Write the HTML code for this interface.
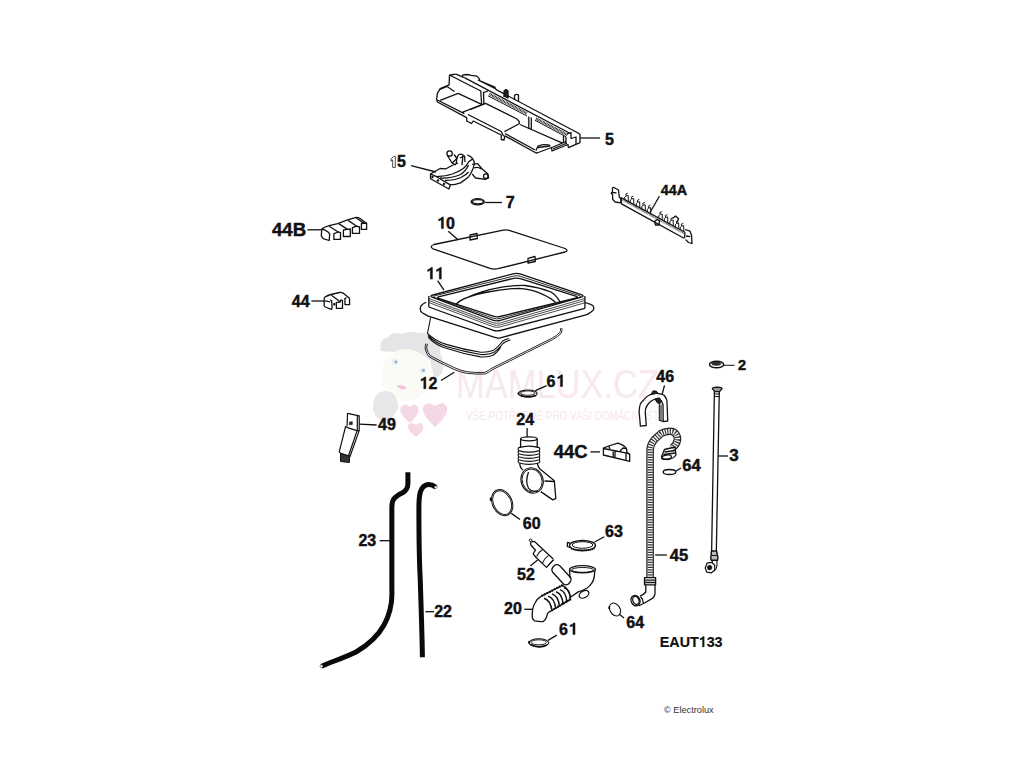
<!DOCTYPE html>
<html><head><meta charset="utf-8">
<style>
html,body{margin:0;padding:0;background:#fff;width:1024px;height:768px;overflow:hidden}
svg{display:block}
.l{font-family:"Liberation Sans",sans-serif;font-weight:bold;fill:#111;stroke:#111;stroke-width:0.45}
.p{stroke:#111;stroke-width:1.3;fill:none;stroke-linejoin:round}.p2{stroke:#111;stroke-width:0.9;fill:none}
.hose{stroke:#0a0a0a;stroke-width:5;fill:none;stroke-linecap:butt}.hose45o{stroke:#222;stroke-width:7;fill:none}.hose45i{stroke:#ccc;stroke-width:4.5;fill:none;stroke-dasharray:1 1.1}
.k{stroke:#111;stroke-width:1.3;fill:none}
</style></head><body>
<svg width="1024" height="768" viewBox="0 0 1024 768">

<!-- WATERMARK -->
<g id="wm">
<path d="M381,351 Q378,340 388,337 Q393,331 402,334 Q410,330 418,333 Q428,331 434,338 Q441,343 440,352 Q445,362 442,372 Q440,378 434,377 L430,360 Q415,348 395,352 Z" fill="#e6e4e6"/>
<ellipse cx="406" cy="375" rx="25" ry="26" fill="#fbfbf5"/>
<circle cx="395" cy="362" r="3.2" fill="#e6f0f4"/><circle cx="396" cy="362" r="1.4" fill="#9ab"/>
<circle cx="422.5" cy="370.5" r="3.2" fill="#e6f0f4"/><circle cx="423.5" cy="370.5" r="1.4" fill="#9ab"/>
<path d="M396.5,386 Q401,383.5 407,388 Q402,391.5 396.5,386 Z" fill="#f0c4dc"/>
<path d="M385,391 Q373,392 373,408 Q374,420 386,421 Q394,418 398,408 Q398,396 391,392 Z" fill="#e8e6e8"/>

<path d="M410,423 Q398,413 401,407 Q405,402 410,407 Q414,402 418,407 Q421,413 410,423 Z" fill="#f5d8e5"/>
<path d="M435,427 Q421,414 423,407 Q427,400 435,406 Q443,400 447,407 Q449,415 435,427 Z" fill="#f5d8e5"/>
<path d="M416,437 Q407,430 408,425 Q411,421 416,425 Q420,421 423,425 Q425,430 416,437 Z" fill="#f5d8e5"/>
<text x="456" y="397.5" font-family="Liberation Sans, sans-serif" font-size="40" fill="#f8e8ef" textLength="203" lengthAdjust="spacingAndGlyphs">MAMLUX.CZ</text>
<text x="466" y="419.5" font-family="Liberation Sans, sans-serif" font-size="12.5" fill="#f7e6ee" textLength="193" lengthAdjust="spacingAndGlyphs">VŠE POTŘEBNÉ PRO VAŠI DOMÁCNOST</text>
</g>
<g class="l">
<text x="605.0" y="144.88" font-size="16">5</text>
<path d="M392.7,167.4 V160 L391,161.2 V159 L393.7,156.4 H395.3 V167.4 Z" fill="none" stroke="#222" stroke-width="0.8"/>
<text x="397.02" y="166.93" font-size="16">5</text>
<text x="505.75" y="207.7" font-size="16">7</text>
<text x="660.75" y="194.88" font-size="14.3">44A</text>
<text x="272.0" y="236.0" font-size="18.6">44B</text>
<path d="M 441.36,228.60 L 443.44,228.60 L 443.44,216.95 L 442.00,216.95 Q 441.36,218.36 438.64,219.16 L 438.64,220.92 Q 440.08,220.52 441.36,219.72 Z"/>
<text x="446.10" y="228.6" font-size="16">0</text>
<path d="M 430.36,279.10 L 432.44,279.10 L 432.44,267.45 L 431.00,267.45 Q 430.36,268.86 427.64,269.66 L 427.64,271.42 Q 429.08,271.02 430.36,270.22 Z"/>
<path d="M 439.26,279.10 L 441.34,279.10 L 441.34,267.45 L 439.90,267.45 Q 439.26,268.86 436.54,269.66 L 436.54,271.42 Q 437.98,271.02 439.26,270.22 Z"/>
<text x="291.85" y="306.65" font-size="16">44</text>
<path d="M 423.78,388.67 L 425.86,388.67 L 425.86,377.02 L 424.42,377.02 Q 423.78,378.43 421.06,379.23 L 421.06,380.99 Q 422.50,380.59 423.78,379.79 Z"/>
<text x="428.52" y="388.67" font-size="16">2</text>
<text x="546.42" y="386.5" font-size="16">6</text>
<path d="M 560.48,386.50 L 562.56,386.50 L 562.56,374.85 L 561.12,374.85 Q 560.48,376.26 557.76,377.06 L 557.76,378.82 Q 559.20,378.42 560.48,377.62 Z"/>
<text x="737.9" y="369.91999999999996" font-size="14.5">2</text>
<text x="656.25" y="381.85" font-size="16">46</text>
<text x="378.1" y="430.12" font-size="16">49</text>
<text x="516.28" y="425.38" font-size="16">24</text>
<text x="553.75" y="457.65" font-size="18.4">44C</text>
<text x="729.33" y="461.07" font-size="17">3</text>
<text x="682.23" y="471.12" font-size="16.5">64</text>
<text x="522.75" y="529.0" font-size="16">60</text>
<text x="605.03" y="536.5" font-size="16">63</text>
<text x="358.38" y="545.65" font-size="16">23</text>
<text x="669.81" y="560.55" font-size="16.5">45</text>
<text x="517.12" y="580.4" font-size="16">52</text>
<text x="504.05" y="613.8" font-size="16">20</text>
<text x="434.23" y="617.33" font-size="16">22</text>
<text x="626.33" y="627.9" font-size="16">64</text>
<text x="558.88" y="634.55" font-size="16">6</text>
<path d="M 572.94,634.55 L 575.02,634.55 L 575.02,622.90 L 573.58,622.90 Q 572.94,624.31 570.22,625.11 L 570.22,626.87 Q 571.66,626.47 572.94,625.67 Z"/>
<text x="659.77" y="646.97" font-size="14.3" style="stroke-width:0.2">EAUT</text>
<path style="stroke-width:0.2" d="M 702.41,646.97 L 704.27,646.97 L 704.27,636.56 L 702.98,636.56 Q 702.41,637.82 699.98,638.53 L 699.98,640.11 Q 701.27,639.75 702.41,639.03 Z"/>
<text x="706.65" y="646.97" font-size="14.3" style="stroke-width:0.2">33</text>
</g>
<text x="664" y="713" font-family="Liberation Sans, sans-serif" font-size="9.2" fill="#333">© Electrolux</text>

<!-- PART5 -->
<g class="p" id="p5">
<path d="M449.5,75 L449.1,84.8 L440.2,88.7 L437.4,93.3 L436.6,98.8 L437.4,102 L466.7,117.6"/>
<path d="M437.4,100 L464.4,113.7 M440.2,100.4 L458.1,93.3 M458.1,93.3 L481.6,104.3 M462.8,112.1 L484.7,103.5"/>
<path d="M449.5,75 L480.8,91 L481.6,104.3 M483.5,91.8 L483.9,103.5 M449.5,75 L455.8,74.2"/>
<path d="M440,89.5 L447,86.5 L450,88.5 L454.5,91.5"/>
<path d="M455.8,74.2 L464.4,77.7 M462,76.7 L463,74.8 L467,74.5 L471.4,75.4 L476.9,76.2 Q479.5,78 480,80.8 L494.8,87 L495.8,89.4 M478,80 L496,88.8"/>
<path d="M464.4,77.7 L570.3,133.5 M495.8,89.4 L578.1,133 L580,134.4 L580,142.7 L568.4,147.6 L568,144.5 L552,151 L551.5,147.5 L537,153 L535.2,152.5"/>
<path d="M489.5,94 L527,113.5 M536,118.5 L567.5,135" stroke-width="2.6" stroke-dasharray="0.9 0.6" stroke="#222"/><path d="M488,95.8 L527,116 M535,120.3 L566,136.8" stroke-width="1"/>
<path d="M484,92.5 L488,90.8 M567,134 L571,132.5 L571,138.5 L576,137 L576,144"/>
<path d="M528.8,116.4 L528.8,129 M531.3,117.4 L531.3,130 M563.5,135.9 L563.5,143.2 M566,137 L566,144.5"/>
<path d="M470,109.7 L485.6,103.4 L516.9,119 Q520,121.5 519.2,123.75 L504.4,131.6"/>
<path d="M466.7,117.6 L466.7,121 L471.5,123.5 L473.2,121 L501.25,135 L501.25,139.5 L504,140 L504.9,135.9 L535.2,152.5"/>
<path d="M468,114.5 L501.25,131.5 L503.6,136.25 M504.9,133.5 L535.2,150 M520,124.5 L562.5,143.2"/>
<path d="M536,150.5 L538,146 Q545,143.5 550.5,145.5 M538,147.5 L550,146 M552,147.5 L566,141.5 M553,149 L567,143"/>
<path d="M504,97 L504,91 L506,89.5 L508,91 L508,98.5" fill="#222"/><path d="M514.5,100 L514.5,95.5 Q516.5,93.5 518.5,95 L518.5,102"/>
</g>
<!-- PART15 -->
<g class="p" id="p15">
<circle cx="449.6" cy="153.5" r="2.7"/>
<path d="M447.5,155.5 L452,163 L457,158.5 L454,154.5 M452,163 L456,165"/>
<path d="M430.5,174 L430.5,178.8 L448.9,189 L450.3,184.9 L436.6,176.7 Z M430.5,174 L440,168.5 L446,168.8 L452,165.5 L458,163"/>
<path d="M436.6,176.7 Q446,176 452.3,174 Q459,171.5 463.3,168.5 Q467,165.5 468.7,161.7 L472.8,158.9 M467.4,154.8 Q471.5,156.5 472.8,158.9 Q474.8,162 474.2,164 Q473.5,168 472.2,170.6 Q470.5,174.5 468.7,176.7 Q465,180 460.5,182.9 Q455,185 449.6,184.9"/>
<path d="M440,178 Q451,178.5 459.5,175 Q466,171.5 468.5,165 M445,180.5 Q454,180.5 461,177.5 Q466,175 468.5,172"/>
<path d="M456.5,164 Q456,157 459,154.5 Q461.5,153.5 463,155 L462,165 M460,158 L464.5,156 L465,162"/>
<path d="M472.2,164.4 L477.6,163.7 L481.7,168.5 L487.9,174 L488.6,178 L485.2,179.4 L475.6,178 L472.2,174 M474,168 Q478,166.5 481,169"/>
<circle cx="485.8" cy="176.2" r="2.3"/>
<path d="M431.5,176.5 L433.5,177.5 M437,180 L439,181 M443,183.5 L445,184.5" stroke-width="2"/>
</g>
<!-- PART7 -->
<ellipse class="p" cx="477.7" cy="201.8" rx="6.6" ry="3.1" stroke-width="1"/><ellipse class="p" cx="477.9" cy="201.8" rx="5.4" ry="2.1" stroke-width="0.8"/>
<!-- PART44A -->
<g class="p" id="p44a">
<path d="M621,197.6 L685,232.3 M621.5,203.9 L684,238.2 M621,197.6 L621.5,203.9 M685,232.3 L684.5,238.2"/>
<path d="M621.5,199.4 L684.5,233.8" stroke="#444" stroke-width="1.6" stroke-dasharray="0.7 0.6"/>
<path d="M612.5,188 Q613,187 614,187.5 L618.5,190 L619.3,197 L621,199 L621,202.8 L618.5,202.5 L615.2,202 L612.7,199.5 L612.5,194.5 L611.2,193.2 L612.5,191.8 Z M612.3,192.5 L616.5,192.8"/>
<path d="M685,229.5 L690,231.2 L691.5,235 L692,243.5 L688.5,242.5 L685.5,239.5 M686,236 L690.3,236.7"/>
<path d="M624.8,200.0 Q624.0,196.3 626.3,195.8 Q624.5,193.8 627.8,193.1 M626.3,195.8 L628.2,195.5 L628.3,201.1 M630.3,203.0 Q629.5,199.3 631.8,198.8 Q630.0,196.8 633.3,196.1 M631.8,198.8 L633.7,198.5 L633.8,204.1 M636.3,206.3 Q635.5,202.6 637.8,202.1 Q636.0,200.1 639.3,199.4 M637.8,202.1 L639.7,201.8 L639.8,207.4 M641.8,209.3 Q641.0,205.6 643.3,205.1 Q641.5,203.1 644.8,202.4 M643.3,205.1 L645.2,204.8 L645.3,210.4 M647.3,212.2 Q646.5,208.5 648.8,208.0 Q647.0,206.0 650.3,205.3 M648.8,208.0 L650.7,207.7 L650.8,213.3 M658.8,218.5 Q658.0,214.8 660.3,214.3 Q658.5,212.3 661.8,211.6 M660.3,214.3 L662.2,214.0 L662.3,219.6 M664.3,221.5 Q663.5,217.8 665.8,217.3 Q664.0,215.3 667.3,214.6 M665.8,217.3 L667.7,217.0 L667.8,222.6 M669.8,224.5 Q669.0,220.8 671.3,220.3 Q669.5,218.3 672.8,217.6 M671.3,220.3 L673.2,220.0 L673.3,225.6 M675.3,227.5 Q674.5,223.8 676.8,223.3 Q675.0,221.3 678.3,220.6 M676.8,223.3 L678.7,223.0 L678.8,228.6 M680.3,230.2 Q679.5,226.5 681.8,226.0 Q680.0,224.0 683.3,223.3 M681.8,226.0 L683.7,225.7 L683.8,231.3" stroke-width="1"/>
<path d="M654.5,221.5 L657,219.5 L659.5,221 L659,225 L655.5,225 Z"/>
<path d="M672.5,218.5 L675.5,216 L678.5,218.5 L677,222.5" />
</g>
<!-- PART44B -->
<g class="p" id="p44b">
<path d="M321.8,228.9 Q325,226.8 329.2,225.7 L337.6,223.6 L347.6,219.9 L356.1,217.3 Q358.8,217.2 360.8,218.9 L366.1,223.1"/>
<path d="M321.8,228.9 L321.3,235.7 Q322,238 323.9,238.9 L329.2,240.5 L329.7,234.2 L328.1,232 Q325,230 321.8,228.9"/>
<path d="M329.2,226.2 L338.2,232 M338.7,223.6 L347.6,229.4 M348.2,220.4 L356.6,226.2 M356.1,217.8 L364.5,223.6"/>
<path d="M333.9,233.6 L333.9,239.4 L340.5,239.4 L340.5,232.6 L338.2,232 Z M343.4,229.9 L343.4,236.5 L350.3,236.5 L350.3,229 L347.6,229.4 Z M352.4,227.6 L352.4,233.4 L359.5,233.4 L359.5,227 L356.6,226.2 Z M361.4,223.5 L361.4,229.4 L366.6,229.4 L366.6,223 Z"/>
</g>
<!-- PART44 -->
<g class="p" id="p44">
<path d="M324.3,297.5 Q327,295.5 331,294.5 L339.5,292.5 Q342,292.3 343.6,293.4 L349.5,298.2 L349.6,304.5 L345,304.6 L344.9,298.3 L346.5,298"/>
<path d="M324.3,297.5 L324.1,305.7 Q324.8,307 326.5,307.5 L331.4,309.4 L332.1,308.3 L331.7,300.8 Q330.5,300 330.2,300.3 M325,300.8 L330.2,301.8"/>
<path d="M331.4,295.3 L339.9,301.6 M336.4,308.3 L336.3,302.5 L340,302.2 L341,299.8 L342.5,300.5 L342.5,308.3 Z"/>
<circle cx="334.3" cy="304.2" r="0.6" fill="#111"/>
</g>
<!-- PART10 -->
<g class="p" id="p10">
<path d="M434,244.5 L502,230.3 Q506,229.5 510,230.6 L565,248.5 Q569,250.5 565,252 L498,268.7 Q494,269.6 490,268.3 L433,248.8 Q429,246.5 434,244.5 Z"/>
<path d="M470,235 L477,233.5 L477.3,238.5 L470,240 Z M528,258.3 L535,256.5 L535.3,261.5 L528,263.2 Z"/>
</g>
<!-- PART11 -->
<g class="p" id="p11">
<path d="M432.9,295.0 L513.1,273.8 Q517.0,272.8 520.8,274.1 L581.2,294.7 Q585.0,296.0 581.2,297.1 L500.3,320.4 Q496.5,321.5 492.8,320.1 L432.7,297.4 Q429.0,296.0 432.9,295.0 Z"/>
<path d="M435.2,295.7 L513.6,276.1 Q517.0,275.2 520.3,276.3 L579.0,295.5 Q582.3,296.6 578.9,297.5 L499.9,318.5 Q496.5,319.4 493.2,318.2 L435.1,297.8 Q431.8,296.6 435.2,295.7 Z" stroke-width="0.9"/>
<path d="M439.4,296.7 L513.6,278.4 Q517.0,277.6 520.3,278.7 L575.7,296.2 Q579.0,297.3 575.6,298.1 L499.9,316.5 Q496.5,317.3 493.2,316.2 L439.3,298.6 Q436.0,297.5 439.4,296.7 Z"/>
<path d="M428.8,298.5 L492.8,322.6 Q496.5,324.0 500.3,322.9 L584.9,298.5 M428.8,300.5 L492.8,324.6 Q496.5,326.0 500.3,324.9 L584.9,300.5 M428.8,302.5 L492.8,326.6 Q496.5,328.0 500.3,326.9 L584.9,302.8" stroke-width="0.75"/>
<path d="M440,303.5 L494,323" stroke="#888" stroke-width="1.4" stroke-dasharray="0.6 0.8"/>
<path d="M428.8,296 L428.8,307 M584.9,296 L584.9,308.4"/>
<path d="M428.8,307.0 L492.7,330.1 Q496.5,331.5 500.4,330.5 L584.9,308.4"/>
<path d="M426.0,302.2 L422.6,304.2 Q420.5,305.5 420.4,308.0 L420.3,309.0 Q420.2,311.5 422.3,312.8 L425.4,314.6 Q427.5,315.9 429.9,316.7 L495.6,337.6 Q498.0,338.4 500.4,337.8 L586.0,314.8 Q588.4,314.2 590.4,312.6 L592.3,311.1 Q594.3,309.5 593.7,307.2 L593.7,307.2 Q593.1,305.0 590.7,304.3 L585.0,302.5"/>
<path d="M456,304.5 Q462,297 488,292 Q505,288.5 519.3,288.4 Q533,289.5 542.7,294.3 Q551,298 555.6,302.5 M466,298 Q480,291 500.5,287.3 Q514,285.2 525.2,285.5 Q540,287.5 551,292 Q557,296 560.3,302.5"/>
<path d="M430.6,317.5 Q429,326 427.5,333.4 Q435,341 446.25,344.4 Q463,349.5 480.6,352.2 Q488,352.5 493,350.6 Q498,347.5 502.5,341.25 Q505.5,339 509,338.5 M428,335.5 Q436,343.5 446.25,346.5 Q463,351.5 480.6,354.5 Q488.5,355 493.5,352.6 Q499,349 503,343.5 Q506,341 510.5,340 M428.3,337.3 Q436,345.5 446.25,348.3 Q463,354 480.6,356.9 Q488,357.5 493,355.3 Q497.5,352.5 501,346.5" stroke-width="1.1"/>
</g>
<!-- PART12 -->
<g class="p2" id="p12">
<path d="M425.9,343.6 Q424.8,347 425.2,349 Q426.5,354 429,356.9 Q440,363 454,369.4 Q460,372 466.6,373.3 Q476,374.5 485.3,374 Q489.5,372 493,369.4 L527.5,352.2 L552.5,339.7 Q558.5,336.5 561,333.4 Q562.5,331 561.9,328"/>
<path d="M427.5,343.8 Q426.4,347 426.8,349 Q428,353.2 430.2,355.6 Q441,361.6 454.8,367.8 Q460.6,370.4 467,371.7 Q476,372.9 484.8,372.4 Q488.7,370.5 492.1,368 L526.8,350.8 L551.8,338.3 Q557.5,335.3 559.8,332.5 Q561,330.5 560.4,328.2"/>
</g>
<!-- PART2 -->
<g class="p" id="p2">
<ellipse cx="716.6" cy="364.5" rx="7.1" ry="3.3" fill="#eee" stroke-width="1.4"/>
<ellipse cx="716.3" cy="363.6" rx="4.6" ry="1.6" fill="#333" stroke-width="0.8"/>
</g>
<!-- PART3 -->
<g class="p" id="p3">
<path d="M712.3,388.6 Q712.5,387.2 717.2,387.1 Q722,387.2 722.1,388.6 L719.5,391.7 L714.8,391.7 Z" fill="#999"/>
<path d="M714.4,391.5 L711.6,553 M719.3,391.5 L716.3,553"/>
<path d="M714.6,394 L719.2,394 M714.6,396.5 L719.2,396.5" stroke-width="1.2"/>
<path d="M711.4,551 L711.1,556 L710.6,557.5 L711.3,560.3 L717.5,560.3 L718,557.5 L717.6,556 L716.6,551 Z" fill="#bbb" stroke-width="1.4"/>
<path d="M711.2,555.5 L717.5,555.5" stroke-width="1"/>
<path d="M712.3,560.3 L712.3,563.5 M716.9,560.3 L716.9,566 Q716.5,569 714,571" stroke-width="1.1"/>
<path d="M707,563.2 L711.5,562.4 L714.6,565 L714.8,570 L711.5,572.8 L706.8,572.2 L705.2,568 Z" fill="#fff" stroke-width="1.2"/>
<circle cx="709.6" cy="567.6" r="2.3" fill="#111" stroke-width="0.6"/>
</g>
<!-- PART46 -->
<g class="p" id="p46">
<path d="M640.4,426.2 L639.1,411.2 Q639.5,403 643,400.8 Q647,395.5 652,394 Q658,392.5 663.8,395 Q667.5,399 667.1,404 L667.7,421 L663.2,421.6 L663,405 Q662,400 658,398.9 Q652,399 648.2,404 Q645,408 645.3,413 L646.3,425.5 Z" fill="#fff"/>
<path d="M659.3,404.7 L659.3,420.3 L663.2,421.6 M661,404.5 L661,421" stroke-width="1.1"/>
<path d="M650.5,395.2 L653,391 L656,391 L658.3,393.2" fill="#222" stroke-width="1"/>
<path d="M655.5,398.6 L659.5,397.8 L661.5,401 L659.5,404.5 L656,401.5 Z" fill="#222" stroke-width="0.8"/>
</g>
<!-- PART45 -->
<g id="p45">
<path d="M650.1,578 L650.1,449.7 Q650.5,444 654.5,439.5 L661,433.5 Q666.5,430.5 672.4,431.5 Q677.5,433.5 677.5,439.5 Q677,444 672.5,448" stroke="#222" stroke-width="7.6" fill="none"/>
<path d="M650.1,578 L650.1,449.7 Q650.5,444 654.5,439.5 L661,433.5 Q666.5,430.5 672.4,431.5 Q677.5,433.5 677.5,439.5 Q677,444 672.5,448" stroke="#fff" stroke-width="5.2" fill="none"/>
<path d="M650.1,578 L650.1,449.7 Q650.5,444 654.5,439.5 L661,433.5 Q666.5,430.5 672.4,431.5 Q677.5,433.5 677.5,439.5 Q677,444 672.5,448" stroke="#333" stroke-width="5.4" fill="none" stroke-dasharray="1.2 1.3"/>
<path class="p" d="M664.5,449.5 L675,447 L676,455 Q673,459.5 667,459.5 Q662,459 661.5,456.5 Z" fill="#fff"/>
<path class="p" d="M664.5,452 L675.5,450.5 M663.5,454.5 L675.8,453" stroke-width="1.1"/>
<ellipse class="p" cx="666.5" cy="457.2" rx="5" ry="2" transform="rotate(-10 666.5 457.2)" fill="#fff"/>
<path class="p" d="M645.8,584.8 L645.8,592 Q644,594.5 640,596 M655,584.8 L655,593.9 Q654.5,597 652.4,598.4 L644.5,603 Q641.5,604.5 638.5,605.8" fill="#fff"/>
<path class="p" d="M644.5,577.6 L655.6,577.6 L655.6,584.8 L644.5,584.8 Z" fill="#fff"/>
<path class="p" d="M644.5,580.2 L655.6,580.2 M644.5,582.5 L655.6,582.5" stroke-width="1"/>
<path class="p" d="M640.5,596.5 Q643,599 643.5,603.5" stroke-width="1"/>
<ellipse class="p" cx="635.5" cy="600.6" rx="4.4" ry="5.3" transform="rotate(-25 635.5 600.6)" fill="#fff"/>
<ellipse class="p" cx="635.9" cy="600.4" rx="3" ry="4" transform="rotate(-25 635.9 600.4)" stroke-width="1"/>
</g>
<!-- PART64 upper -->
<ellipse class="p" cx="669.5" cy="472" rx="6.3" ry="2.5"/>
<!-- PART44C -->
<g class="p" id="p44c">
<path d="M603.4,448.2 L603.4,455 L629.7,461.4 L629.7,454.2 L626.9,452.3 L626.5,448.7 Q624,445 617.8,443.2 L608.7,446 Z"/>
<path d="M603.4,448.5 L626.9,453.2 L629.7,454.2 M613.2,450.5 L613.2,457.3 M615,450.9 L615,457.7 M626,453 L626,460.5 M608.7,446 L610,449 M620,451 L623,448 L626.5,448.7"/>
</g>
<!-- PART24 -->
<g class="p" id="p24">
<path d="M520.6,438.8 L520.6,447.6 M537.2,438.8 L537.2,447.6"/>
<ellipse cx="528.9" cy="438.8" rx="8.3" ry="2"/>
<path d="M518.6,447.6 Q528.9,444.5 539.3,447.6 M518.6,450.6 Q528.9,453.8 539.3,450.6 M518.6,453.7 Q528.9,456.9 539.3,453.7 M518.6,456.7 Q528.9,459.9 539.3,456.7 M518.6,459.7 Q528.9,462.9 539.3,459.7 M518.6,462.8 Q528.9,465.9 539.3,462.8 M518.6,447.6 Q517.6,449.1 518.6,450.6 Q517.6,452.1 518.6,453.7 Q517.6,455.2 518.6,456.7 Q517.6,458.2 518.6,459.7 Q517.6,461.2 518.6,462.8 M539.3,447.6 Q540.3,449.1 539.3,450.6 Q540.3,452.1 539.3,453.7 Q540.3,455.2 539.3,456.7 Q540.3,458.2 539.3,459.7 Q540.3,461.2 539.3,462.8" stroke-width="1.15"/>
<path d="M519.7,463.2 Q520,468 523.1,470 M537.2,463.2 Q538,467 540,469 L554.3,480.8 L555.8,498.4 L552.9,499.9 L540.7,491.6"/>
<ellipse cx="532.1" cy="480.5" rx="11" ry="12.9" transform="rotate(-20 532.1 480.5)" stroke-width="1"/>
<ellipse cx="532.1" cy="480.5" rx="9.8" ry="11.7" transform="rotate(-20 532.1 480.5)" stroke-width="0.9"/>
<path d="M528.5,472 Q525,482 528.5,488 Q531,492 538,491 M544.5,481 L554.3,481.5"/>
</g>
<!-- PART60 -->
<g class="p" id="p60">
<ellipse cx="502.2" cy="502.6" rx="9.9" ry="13.6" transform="rotate(-25 502.2 502.6)" stroke-width="1"/>
<ellipse cx="502.2" cy="502.6" rx="8.7" ry="12.4" transform="rotate(-25 502.2 502.6)" stroke-width="0.9"/>
<path d="M490.8,497.5 L490.8,501" stroke-width="2"/>
</g>
<!-- PART63 -->
<g class="p" id="p63">
<ellipse cx="582.5" cy="545.5" rx="13" ry="5"/>
<ellipse cx="582.5" cy="545" rx="10.3" ry="3.3" stroke-width="1"/>
<path d="M569.8,543 L567.5,542.5 L567.3,546.5 L570,547.5" />
<path d="M571,548.5 Q582.5,552.5 594.5,548.5" stroke-width="1.8" stroke-dasharray="1.2 0.7"/>
</g>
<!-- PART52 -->
<g class="p" id="p52">
<circle cx="530.6" cy="540.3" r="1.3" stroke-width="1"/>
<path d="M530.3,544.2 L531.3,541.8 M531.9,541.4 L534.5,541.6 L553.25,559.1 M530.3,544.2 L535.5,550.2 Q534,552 533.2,553.9 L536.1,557.5 L546.5,567.4 L553.8,559.6"/>
<path d="M536.6,556.5 Q538.5,552 542.3,549.7 M542.3,563.25 Q544.5,558 548.6,555.4" stroke-width="1.1"/>
<path d="M547.8,565.5 L553,559.8" stroke-width="1"/>
</g>
<!-- PART20 -->
<g class="p" id="p20">
<path d="M553,567 Q551,569.5 552.5,572 L563.5,584 Q566,585.8 568.5,584 L570.5,581.5 Q572,579.5 570.5,577.5 L560,566 Q557.5,564 555,565 Z"/>
<path d="M569.5,570 L570,578 M594.9,570.5 L594.2,577 Q593.5,580.5 591.8,583.2 Q589.5,586.5 586.8,588.2 Q582.5,590.5 578.2,591.9 L570,597.5"/>
<ellipse cx="582.5" cy="569.3" rx="13" ry="3.6" fill="#fff"/>
<ellipse cx="582.5" cy="569.9" rx="11" ry="2.4" stroke-width="1"/>
<ellipse cx="584" cy="594.3" rx="5.2" ry="3.3" transform="rotate(-28 584 594.3)" fill="#fff"/>
<path d="M540.9,596.4 L562.3,585.3 Q566,587 567.8,590.2 Q569.8,593.5 570.2,596.4 L570.2,599.4 L551.25,611" fill="#fff"/>
<path d="M544.0,598.2 Q550.5,600.2 552.0,610.6 M548.0,596.1 Q554.5,598.1 555.7,608.6 M552.0,593.9 Q558.5,595.9 559.4,606.5 M556.0,591.8 Q562.5,593.8 563.1,604.5 M560.0,589.6 Q566.5,591.6 566.8,602.4 M564.0,587.5 Q570.5,589.5 570.5,600.4" stroke-width="1.5"/>
<path d="M541.5,596 L563,585" stroke-width="2.2" stroke-dasharray="1.6 1.2"/>
<path d="M551.5,610.5 L570,599.5" stroke-width="2.2" stroke-dasharray="1.3 1"/>
<path d="M540.9,596.4 Q537,599 535.3,602.5 Q533,606 532.6,609.8 Q532,614 532.3,617.8 Q533,620 534.7,620.8 Q539,621.8 543.3,621.5 Q545.5,620 546.4,617.2 L547.6,613.5 Q549,611.5 551.25,611"/>
</g>
<!-- PART64 lower -->
<g class="p" id="p64b">
<ellipse cx="615" cy="609.5" rx="5" ry="6.9" transform="rotate(-32 615 609.5)" stroke-width="1.1"/>
<path d="M609.2,606.5 L609.2,609" stroke-width="1.8"/>
</g>
<!-- PART61 upper/lower -->
<g class="p" id="p61">
<ellipse cx="527.8" cy="393.5" rx="9.4" ry="3.5" stroke-width="1.1"/>
<ellipse cx="527.8" cy="393.1" rx="7.2" ry="2.2" stroke-width="0.9"/>
<path d="M520,395 Q527.8,398.6 536,395.5" stroke-width="1.8"/>
<path d="M518.6,392.5 L518.6,394.5" stroke-width="2"/>
<ellipse cx="538.8" cy="642.7" rx="9.9" ry="3.9" stroke-width="1.1"/>
<ellipse cx="538.8" cy="642.3" rx="7.6" ry="2.5" stroke-width="0.9"/>
<path d="M530.5,644.5 Q538.8,648.8 547,645" stroke-width="1.8"/>
<path d="M529.2,641 L529.2,643.5" stroke-width="2"/>
</g>
<!-- PART49 -->
<g class="p" id="p49">
<path d="M347.5,413.3 L359.2,415.9 L359.2,430.6 M347.5,413.3 L347.1,426.2 M357.3,416.3 L357.3,430" stroke-width="1.2"/>
<path d="M345.6,426.5 L347.5,427.6 L356.9,430.6 L359.2,430.6 L350.1,456.3 L340.7,453.3 L339.2,451.8 L345.6,426.5 Z M357,431 L348.6,455.5" stroke-width="1.2"/>
<path d="M340.5,453.5 L340.5,461.5 L349.4,462.5 L349.6,456.3 Z" fill="#333" stroke-width="1"/>
<path d="M349.6,422 L352.4,421.8 L352.2,424.6 L349.4,424.8 Z" fill="#222" stroke-width="0.6"/>
</g>
<!-- HOSE23/22 -->
<g id="hoses">
<path class="hose" d="M407.9,472.2 L407.9,483.6 C407.9,488 406.5,490.5 403,492.5 C399,494.5 396,496 393.8,499 C392,501.5 391.85,504 391.85,508 L391.85,590 C392.5,603 390,614 384,625 C378,636 368,645 356,652 C346,657 334,661 321.4,666.2"/>
<path class="hose" stroke-linecap="round" d="M435.9,487.2 C433,485 431,484.3 428.5,484.4 C424.5,484.7 422,487 420.5,491.5 C419.3,495.5 418.9,500 418.9,508 C418.9,530 419.2,560 420.2,578 C421,605 422,630 422.4,657.3"/>
<circle cx="321.4" cy="666.2" r="1.4" fill="#fff" stroke="#333" stroke-width="0.5"/>
<circle cx="435.9" cy="487.2" r="1.4" fill="#fff" stroke="#333" stroke-width="0.5"/>
</g>
<g class="k">
<path d="M580 138H600"/>
<path d="M411 165.6L436 172"/>
<path d="M485 202.5H502"/>
<path d="M659.4 196.2L650 212.5"/>
<path d="M307.5 229.8H322"/>
<path d="M311.4 301H324"/>
<path d="M448.3 231.2L458 239.7"/>
<path d="M437.6 280.6L444 290.2"/>
<path d="M441 380.5L454.3 372.3"/>
<path d="M535.4 390.7L546.6 385.6"/>
<path d="M723.8 365.3H734.5" stroke-width="1"/>
<path d="M664.5 385.3L662.2 394"/>
<path d="M718.2 456H728"/>
<path d="M359.4 424.2L376.6 425"/>
<path d="M527.1 428.1V437"/>
<path d="M590.4 451.9H600"/>
<path d="M676 471L681 468"/>
<path d="M655.1 555H666.9"/>
<path d="M511.3 513.4L520 519.5"/>
<path d="M594.6 542L604.3 536.7"/>
<path d="M530.3 565.9L537.6 560.1"/>
<path d="M524.3 609.3H533"/>
<path d="M379.6 540.7H390"/>
<path d="M425.4 611.7H434"/>
<path d="M619 614L624 618"/>
<path d="M548 640.4L556.8 635.1"/>
</g>
</svg>
</body></html>
